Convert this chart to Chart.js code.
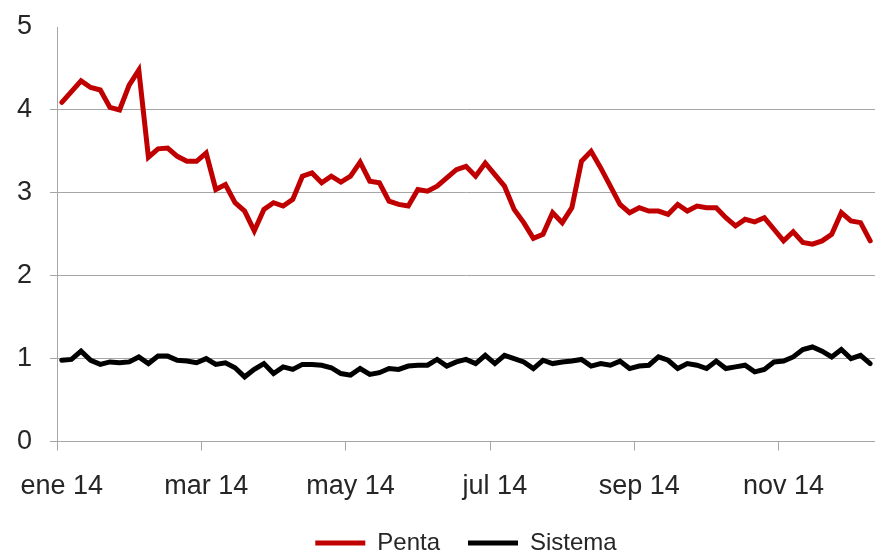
<!DOCTYPE html>
<html lang="es">
<head>
    <meta charset="UTF-8">
    <title>Penta vs Sistema</title>
    <script src="https://cdn.jsdelivr.net/npm/chart.js"></script>
    <style>
        body {
            margin: 0;
            background: #ffffff;
            overflow: hidden;
        }
        .chart-container {
            position: relative;
            width: 875px;
            height: 565px;
        }
    </style>
</head>
<body>
    <div class="chart-container">
        <canvas id="chart"></canvas>
    </div>
    <script>
        // values, one point every ~4 days through 2014
        const penta = [
            4.09, 4.22, 4.35, 4.27, 4.24, 4.03, 4.00, 4.30, 4.48, 3.43,
            3.53, 3.54, 3.44, 3.38, 3.38, 3.48, 3.04, 3.10, 2.88, 2.78,
            2.54, 2.80, 2.88, 2.84, 2.92, 3.20, 3.24, 3.12, 3.20, 3.13,
            3.20, 3.37, 3.14, 3.12, 2.90, 2.86, 2.84, 3.04, 3.02, 3.08,
            3.18, 3.28, 3.32, 3.20, 3.36, 3.22, 3.08, 2.80, 2.64, 2.45,
            2.50, 2.76, 2.64, 2.82, 3.38, 3.50, 3.30, 3.08, 2.86, 2.76,
            2.82, 2.78, 2.78, 2.74, 2.86, 2.78, 2.84, 2.82, 2.82, 2.70,
            2.60, 2.68, 2.65, 2.70, 2.56, 2.42, 2.53, 2.40, 2.38, 2.42,
            2.50, 2.76, 2.66, 2.64, 2.42
        ];
        const sistema = [
            0.98, 0.99, 1.09, 0.98, 0.93, 0.96, 0.95, 0.96, 1.02, 0.94,
            1.03, 1.03, 0.98, 0.97, 0.95, 1.00, 0.93, 0.95, 0.89, 0.78,
            0.87, 0.94, 0.82, 0.90, 0.87, 0.93, 0.93, 0.92, 0.89, 0.82,
            0.80, 0.88, 0.81, 0.83, 0.88, 0.87, 0.91, 0.92, 0.92, 0.99,
            0.91, 0.96, 0.99, 0.94, 1.04, 0.94, 1.04, 1.00, 0.96, 0.88,
            0.98, 0.94, 0.96, 0.97, 0.99, 0.91, 0.94, 0.92, 0.97, 0.88,
            0.91, 0.92, 1.02, 0.98, 0.88, 0.94, 0.92, 0.88, 0.97, 0.88,
            0.90, 0.92, 0.84, 0.87, 0.96, 0.97, 1.02, 1.11, 1.14, 1.09,
            1.02, 1.11, 1.00, 1.04, 0.94
        ];
        // one label every 15 points (two months)
        const tickLabels = ['ene 14', 'mar 14', 'may 14', 'jul 14', 'sep 14', 'nov 14'];
        const labelEvery = 15;

        const labels = penta.map((_, i) => (i % labelEvery === 0 ? tickLabels[i / labelEvery] : ''));

        const axisGray = '#a6a6a6';
        const textColor = '#262626';
        const fontFamily = "'Liberation Sans', Arial, sans-serif";

        new Chart(document.getElementById('chart'), {
            type: 'line',
            data: {
                labels: labels,
                datasets: [
                    {
                        label: 'Penta',
                        data: penta,
                        borderColor: '#c00000',
                        backgroundColor: '#c00000',
                        borderWidth: 5,
                        borderCapStyle: 'round',
                        pointRadius: 0,
                        tension: 0
                    },
                    {
                        label: 'Sistema',
                        data: sistema,
                        borderColor: '#000000',
                        backgroundColor: '#000000',
                        borderWidth: 5,
                        borderCapStyle: 'round',
                        pointRadius: 0,
                        tension: 0
                    }
                ]
            },
            options: {
                responsive: true,
                maintainAspectRatio: false,
                animation: false,
                layout: {
                    padding: { left: 17, right: 0, top: 27, bottom: 0 }
                },
                scales: {
                    x: {
                        type: 'category',
                        offset: true,
                        grid: {
                            offset: true,
                            drawOnChartArea: false,
                            tickLength: 9,
                            tickColor: ctx => (ctx.index % labelEvery === 0 ? axisGray : 'rgba(0,0,0,0)')
                        },
                        border: { color: axisGray, width: 1 },
                        ticks: {
                            autoSkip: false,
                            maxRotation: 0,
                            minRotation: 0,
                            padding: 0,
                            color: textColor,
                            // tall line box pushes the labels down without widening side padding
                            font: { family: fontFamily, size: 27, lineHeight: 2.7 }
                        },
                        afterFit: scale => { scale.height = 61.5; }
                    },
                    y: {
                        min: 0,
                        max: 5,
                        grid: {
                            color: ctx => (ctx.tick && ctx.tick.value === 5 ? 'rgba(0,0,0,0)' : axisGray),
                            lineWidth: 1,
                            tickLength: 7
                        },
                        border: { color: axisGray, width: 1 },
                        ticks: {
                            stepSize: 1,
                            padding: 0,
                            crossAlign: 'far',
                            color: textColor,
                            font: { family: fontFamily, size: 27 }
                        },
                        afterFit: scale => { scale.width = 40; }
                    }
                },
                plugins: {
                    legend: {
                        position: 'bottom',
                        fullSize: false,
                        labels: {
                            usePointStyle: true,
                            pointStyle: 'line',
                            pointStyleWidth: 50,
                            padding: 28,
                            color: textColor,
                            font: { family: fontFamily, size: 24 }
                        }
                    },
                    tooltip: { enabled: false }
                }
            }
        });
    </script>
</body>
</html>
